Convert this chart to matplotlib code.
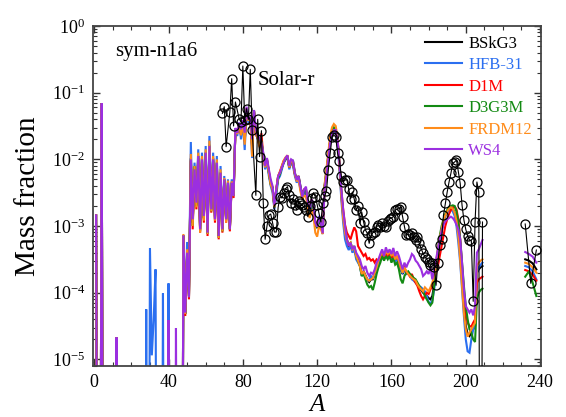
import numpy as np
import matplotlib.pyplot as plt
from matplotlib.ticker import MultipleLocator, LogLocator

plt.rcParams['font.family'] = ['Liberation Serif', 'DejaVu Serif']
plt.rcParams['mathtext.fontset'] = 'custom'
plt.rcParams['mathtext.rm'] = 'Liberation Serif'
plt.rcParams['mathtext.it'] = 'Liberation Serif:italic'

models = ['BSkG3', 'HFB-31', 'D1M', 'D3G3M', 'FRDM12', 'WS4']
colors = ['#000000', '#2b6ff0', '#ff0000', '#138a13', '#ff8c1a', '#9b2fe0']

# light nuclei (log10 mass fraction), shared by all models
A_low = [1, 4, 12]
low_log = [-2.84, -1.16, -4.67]
# extra light bits only in some models
A_low_hfb = [28, 30, 31, 32, 33, 37, 40]
low_log_hfb = [-4.25, -3.33, -4.94, -4.40, -3.65, -4.01, -3.86]
A_low_ws4 = [40, 44]
low_log_ws4 = [-4.41, -4.53]

# main region A = 48 ... 209, log10 mass fraction
A_main = np.arange(48, 210)

bskg3 = [
    -3.14, -4.32, -3.40, -4.05, -1.98, -2.95, -2.12, -2.68, -1.95, -3.05,
    -1.98, -2.88, -1.90, -3.10, -1.78, -2.75, -1.98, -2.90, -2.05, -3.15,
    -2.20, -3.05, -2.30, -2.90, -2.35, -3.05, -2.35, -2.55, -1.55, -1.60,
    -1.46, -1.62, -1.42, -1.74, -1.24, -1.42, -1.38, -1.82, -1.27, -1.62,
    -1.68, -1.80, -1.74, -1.95, -2.10, -2.02, -2.20, -2.36, -2.44, -2.72,
    -2.46, -2.26, -2.21, -2.12, -2.04, -1.99, -1.96, -2.12, -2.03, -2.05,
    -2.22, -2.32, -2.27, -2.43, -2.56, -2.50, -2.48, -2.70, -2.80, -2.65,
    -2.72, -2.98, -3.03, -2.90, -2.98, -3.10, -2.42, -2.20, -1.96, -1.73,
    -1.60, -1.55, -1.58, -1.73, -2.08, -2.52, -2.85, -3.08, -3.22, -3.30,
    -3.28, -3.36, -3.32, -3.45, -3.50, -3.58, -3.72, -3.68, -3.74, -3.80,
    -3.84, -3.80, -3.80, -3.72, -3.62, -3.55, -3.48, -3.40, -3.48, -3.40,
    -3.46, -3.42, -3.50, -3.44, -3.52, -3.48, -3.55, -3.65, -3.72, -3.65,
    -3.70, -3.70, -3.74, -3.76, -3.80, -3.84, -3.88, -3.92, -3.96, -4.00,
    -4.02, -4.05, -4.08, -4.10, -4.05, -3.88, -3.62, -3.40, -3.20, -3.05,
    -2.93, -2.85, -2.79, -2.75, -2.73, -2.74, -2.80, -2.92, -3.12, -3.40,
    -3.80, -4.20, -4.50, -4.62, -4.65, -4.60, -4.55, -4.50, -3.70, -3.65,
    -3.62, -3.60]

hfb31 = [
    -3.14, -4.30, -3.24, -3.90, -1.74, -2.85, -2.05, -2.60, -1.85, -3.00,
    -1.90, -2.80, -1.80, -3.05, -1.65, -2.70, -1.90, -2.85, -1.95, -3.10,
    -2.10, -3.00, -2.25, -2.85, -2.30, -3.00, -2.30, -2.50, -1.55, -1.65,
    -1.45, -1.70, -1.45, -1.86, -1.25, -1.45, -1.40, -1.98, -1.28, -1.60,
    -1.70, -1.75, -1.80, -1.95, -2.15, -2.05, -2.25, -2.40, -2.50, -2.75,
    -2.55, -2.30, -2.25, -2.15, -2.05, -2.00, -1.98, -2.15, -2.05, -2.10,
    -2.25, -2.35, -2.30, -2.45, -2.55, -2.50, -2.50, -2.70, -2.80, -2.65,
    -2.70, -2.95, -3.00, -2.85, -2.95, -3.05, -2.40, -2.20, -1.95, -1.72,
    -1.62, -1.58, -1.62, -1.78, -2.15, -2.60, -2.95, -3.20, -3.30, -3.36,
    -3.30, -3.40, -3.35, -3.50, -3.55, -3.60, -3.75, -3.70, -3.75, -3.80,
    -3.82, -3.75, -3.78, -3.70, -3.62, -3.55, -3.50, -3.42, -3.50, -3.42,
    -3.48, -3.45, -3.52, -3.45, -3.55, -3.48, -3.55, -3.65, -3.70, -3.65,
    -3.72, -3.70, -3.75, -3.80, -3.82, -3.85, -3.88, -3.90, -3.92, -3.95,
    -3.98, -4.05, -4.14, -4.16, -4.12, -3.95, -3.70, -3.45, -3.25, -3.10,
    -2.95, -2.85, -2.80, -2.76, -2.75, -2.78, -2.85, -3.00, -3.25, -3.55,
    -3.95, -4.35, -4.70, -4.88, -4.90, -4.70, -4.55, -4.50, -3.70, -3.62,
    -3.58, -3.55]

d1m = [
    -3.14, -4.35, -3.45, -4.10, -2.02, -3.05, -2.15, -2.75, -1.98, -3.10,
    -2.02, -2.95, -1.92, -3.15, -1.82, -2.80, -2.02, -2.95, -2.08, -3.20,
    -2.22, -3.10, -2.32, -2.95, -2.38, -3.08, -2.38, -2.58, -1.55, -1.60,
    -1.47, -1.62, -1.42, -1.72, -1.23, -1.40, -1.37, -1.80, -1.27, -1.62,
    -1.68, -1.80, -1.61, -1.95, -2.10, -2.00, -2.18, -2.35, -2.42, -2.70,
    -2.45, -2.25, -2.18, -2.10, -2.02, -1.98, -1.96, -2.12, -2.02, -2.05,
    -2.22, -2.30, -2.25, -2.42, -2.52, -2.45, -2.45, -2.65, -2.75, -2.60,
    -2.70, -2.95, -2.98, -2.88, -2.95, -3.08, -2.42, -2.22, -1.98, -1.73,
    -1.60, -1.55, -1.58, -1.72, -2.05, -2.45, -2.75, -2.98, -3.10, -3.15,
    -3.20, -3.10, -3.02, -3.08, -3.30, -3.35, -3.40, -3.45, -3.42, -3.50,
    -3.48, -3.52, -3.50, -3.55, -3.50, -3.52, -3.48, -3.42, -3.48, -3.40,
    -3.45, -3.40, -3.48, -3.42, -3.50, -3.45, -3.52, -3.62, -3.65, -3.62,
    -3.70, -3.72, -3.76, -3.72, -3.80, -3.85, -3.90, -3.98, -4.05, -4.10,
    -4.05, -4.00, -4.02, -3.95, -3.90, -3.80, -3.70, -3.60, -3.45, -3.30,
    -3.15, -3.00, -2.90, -2.82, -2.76, -2.72, -2.71, -2.75, -2.90, -3.20,
    -3.60, -4.00, -4.30, -4.45, -4.50, -4.51, -4.45, -4.40, -3.85, -3.80,
    -3.78, -3.76]

d3g3m = [
    -3.14, -4.32, -3.42, -4.05, -2.00, -3.00, -2.10, -2.70, -1.95, -3.08,
    -2.00, -2.90, -1.90, -3.12, -1.80, -2.78, -2.00, -2.87, -2.05, -3.18,
    -2.20, -3.08, -2.30, -2.92, -2.35, -3.05, -2.35, -2.55, -1.54, -1.58,
    -1.46, -1.60, -1.42, -1.70, -1.24, -1.42, -1.36, -1.80, -1.27, -1.60,
    -1.64, -1.78, -1.72, -1.93, -2.05, -2.00, -2.20, -2.38, -2.42, -2.72,
    -2.48, -2.28, -2.22, -2.12, -2.05, -2.00, -1.95, -2.12, -2.02, -2.02,
    -2.20, -2.32, -2.25, -2.40, -2.55, -2.48, -2.45, -2.68, -2.78, -2.62,
    -2.72, -2.98, -3.02, -2.90, -2.98, -3.12, -2.40, -2.15, -1.95, -1.72,
    -1.58, -1.52, -1.56, -1.70, -2.05, -2.50, -2.82, -3.05, -3.20, -3.28,
    -3.25, -3.35, -3.30, -3.45, -3.52, -3.60, -3.75, -3.72, -3.80, -3.88,
    -3.92, -3.90, -3.96, -3.85, -3.72, -3.62, -3.55, -3.45, -3.52, -3.45,
    -3.50, -3.45, -3.55, -3.48, -3.58, -3.55, -3.65, -3.80, -3.86, -3.75,
    -3.70, -3.68, -3.72, -3.75, -3.78, -3.80, -3.85, -3.90, -3.95, -3.98,
    -4.05, -4.10, -4.15, -4.19, -4.15, -3.90, -3.60, -3.35, -3.15, -3.00,
    -2.90, -2.82, -2.76, -2.72, -2.70, -2.69, -2.70, -2.78, -2.95, -3.20,
    -3.55, -3.90, -4.20, -4.40, -4.55, -4.60, -4.70, -4.74, -4.10, -4.00,
    -3.96, -3.94]

frdm12 = [
    -3.12, -4.32, -3.35, -4.05, -1.92, -3.00, -2.10, -2.72, -1.90, -3.10,
    -1.95, -2.92, -1.85, -3.12, -1.72, -2.78, -1.95, -2.92, -2.00, -3.18,
    -2.15, -3.08, -2.28, -2.95, -2.32, -3.05, -2.33, -2.55, -1.55, -1.62,
    -1.46, -1.64, -1.43, -1.78, -1.24, -1.42, -1.38, -1.96, -1.28, -1.62,
    -1.68, -1.82, -1.75, -1.98, -2.12, -2.02, -2.20, -2.38, -2.45, -2.72,
    -2.45, -2.25, -2.20, -2.10, -2.02, -1.97, -1.94, -2.12, -2.02, -2.04,
    -2.22, -2.33, -2.30, -2.48, -2.60, -2.55, -2.55, -2.78, -2.88, -2.75,
    -2.85, -3.10, -3.16, -3.00, -3.05, -3.12, -2.38, -2.15, -1.90, -1.65,
    -1.52, -1.47, -1.50, -1.68, -2.08, -2.55, -2.88, -3.10, -3.22, -3.28,
    -3.25, -3.35, -3.32, -3.45, -3.52, -3.60, -3.72, -3.68, -3.75, -3.80,
    -3.82, -3.80, -3.78, -3.70, -3.62, -3.52, -3.45, -3.38, -3.45, -3.38,
    -3.42, -3.38, -3.45, -3.40, -3.50, -3.45, -3.52, -3.62, -3.70, -3.62,
    -3.68, -3.72, -3.75, -3.78, -3.80, -3.82, -3.88, -3.92, -3.95, -3.98,
    -3.92, -3.95, -3.98, -3.92, -3.85, -3.75, -3.55, -3.35, -3.18, -3.05,
    -2.92, -2.84, -2.78, -2.74, -2.72, -2.74, -2.80, -2.92, -3.15, -3.50,
    -3.90, -4.30, -4.55, -4.66, -4.60, -4.55, -4.50, -4.45, -3.60, -3.55,
    -3.52, -3.50]

ws4 = [
    -3.14, -4.30, -3.40, -4.07, -2.00, -2.90, -2.15, -2.65, -1.95, -3.05,
    -2.00, -2.85, -1.90, -3.10, -1.80, -2.75, -2.00, -2.90, -2.05, -3.15,
    -2.20, -3.05, -2.30, -2.90, -2.35, -3.05, -2.35, -2.55, -1.53, -1.60,
    -1.45, -1.55, -1.41, -1.60, -1.21, -1.40, -1.36, -1.70, -1.26, -1.55,
    -1.65, -1.68, -1.75, -1.90, -2.10, -1.98, -2.15, -2.30, -2.40, -2.69,
    -2.45, -2.25, -2.20, -2.12, -2.05, -1.98, -1.94, -2.10, -2.00, -2.02,
    -2.20, -2.31, -2.25, -2.40, -2.56, -2.45, -2.41, -2.65, -2.76, -2.60,
    -2.65, -2.95, -3.01, -2.86, -2.95, -3.11, -2.45, -2.25, -2.00, -1.75,
    -1.62, -1.56, -1.56, -1.72, -2.05, -2.45, -2.75, -3.00, -3.20, -3.30,
    -3.25, -3.35, -3.30, -3.40, -3.45, -3.50, -3.60, -3.65, -3.60, -3.70,
    -3.75, -3.70, -3.72, -3.65, -3.55, -3.50, -3.42, -3.35, -3.45, -3.32,
    -3.40, -3.35, -3.42, -3.33, -3.45, -3.38, -3.45, -3.55, -3.65, -3.55,
    -3.62, -3.55, -3.50, -3.42, -3.45, -3.52, -3.55, -3.60, -3.65, -3.75,
    -3.72, -3.68, -3.72, -3.62, -3.80, -3.65, -3.50, -3.35, -3.20, -3.08,
    -2.98, -2.93, -2.90, -2.88, -2.86, -2.88, -2.92, -2.98, -3.05, -3.20,
    -3.55, -3.95, -4.20, -4.25, -4.30, -4.25, -4.34, -4.20, -3.40, -3.35,
    -3.28, -3.21]

# actinide group
A_act = [232, 234, 236, 238]
act = {
    'BSkG3': [-3.50, -3.52, -3.56, -3.65],
    'HFB-31': [-3.60, -3.62, -3.68, -3.80],
    'D1M': [-3.66, -3.68, -3.73, -3.82],
    'D3G3M': [-3.76, -3.68, -3.85, -4.05],
    'FRDM12': [-3.55, -3.57, -3.62, -3.70],
    'WS4': [-3.39, -3.42, -3.46, -3.55],
}

# solar r-process residuals (log10 mass fraction); 208 is off the scale
solar_A = [69, 70, 71, 73, 74, 75, 76, 78, 79, 80, 81, 82, 83, 84, 85, 87, 88,
           89, 90, 91, 92, 93, 94, 95, 96, 97, 98] + list(range(99, 210))
solar_log = [
    -1.31, -1.21, -1.81, -1.29, -0.79, -1.50, -1.14, -1.39, -1.44, -0.60,
    -1.41, -1.24, -1.40, -0.65, -1.56, -2.54, -1.40, -1.96, -1.57, -2.66,
    -3.20, -3.00, -2.84, -2.82, -2.95, -3.09, -3.09,
    -2.72, -2.56, -2.58, -2.51, -2.44, -2.41, -2.54, -2.66, -2.60, -2.69,
    -2.76, -2.62, -2.66, -2.69, -2.72, -2.76, -2.86, -2.70, -2.58, -2.50,
    -2.56, -2.68, -2.81, -2.94, -2.66, -2.55, -2.48, -2.16, -1.91, -1.67,
    -1.64, -1.66, -1.91, -2.02, -2.25, -2.34, -2.31, -2.31, -2.45, -2.59,
    -2.49, -2.60, -2.76, -2.70, -2.96, -2.79, -2.94, -3.06, -3.11, -3.26,
    -3.14, -3.10, -3.09, -3.01, -2.99, -3.01, -2.96, -3.00, -3.01, -2.93,
    -2.89, -2.88, -2.86, -2.76, -2.75, -2.74, -2.72, -2.86, -3.01, -3.14,
    -3.12, -3.14, -3.10, -3.16, -3.21, -3.16, -3.26, -3.34, -3.41, -3.46,
    -3.50, -3.54, -3.59, -3.56, -3.61, -3.89, -3.55, -3.29, -3.19, -2.84,
    -2.66, -2.49, -2.34, -2.21, -2.06, -2.04, -2.01, -2.19, -2.36, -2.69,
    -2.91, -3.05, -3.15, -3.21, -3.22, -4.13, -2.94, -2.34, -2.49, -12.0,
    -2.94]
solar_A_act = [232, 235, 238]
solar_log_act = [-2.97, -3.86, -3.36]

main = {'BSkG3': bskg3, 'HFB-31': hfb31, 'D1M': d1m, 'D3G3M': d3g3m,
        'FRDM12': frdm12, 'WS4': ws4}
extra = {'HFB-31': (A_low_hfb, low_log_hfb), 'WS4': (A_low_ws4, low_log_ws4)}

A_full = np.arange(1, 210)

fig = plt.figure(figsize=(5.66, 4.17), dpi=100)
ax = fig.add_axes([93.3 / 566, 1 - 366 / 417, 447.7 / 566, 340 / 417])

handles = []
for name, c in zip(models, colors):
    logx = np.full(A_full.size, -12.0)
    logx[np.array(A_low) - 1] = low_log
    if name in extra:
        ea, ev = extra[name]
        logx[np.array(ea) - 1] = ev
    logx[A_main - 1] = main[name]
    h, = ax.plot(A_full, 10.0 ** logx, color=c, lw=1.5, solid_joinstyle='miter')
    ax.plot(A_act, 10.0 ** np.array(act[name]), color=c, lw=1.5)
    handles.append(h)

ax.plot(solar_A, 10.0 ** np.array(solar_log), '-o', color='k', lw=0.8,
        ms=6.5, mfc='none', mew=0.9, zorder=10)
ax.plot(solar_A_act, 10.0 ** np.array(solar_log_act), '-o', color='k', lw=0.8,
        ms=6.5, mfc='none', mew=0.9, zorder=10)

ax.set_yscale('log')
ax.set_xlim(-0.5, 240.5)
ax.set_ylim(10 ** -5.1, 1)
ax.xaxis.set_major_locator(MultipleLocator(40))
ax.xaxis.set_minor_locator(MultipleLocator(10))
ax.yaxis.set_major_locator(LogLocator(base=10, numticks=10))
ax.yaxis.set_minor_locator(LogLocator(base=10, subs=np.arange(2, 10), numticks=20))
ax.tick_params(which='both', direction='in', top=True, right=True,
               labelsize=13, color='#333333')
ax.tick_params(which='major', length=5, width=1.0, pad=6)
ax.tick_params(which='minor', length=3, width=0.8)
for s in ax.spines.values():
    s.set_color('#444444')
    s.set_linewidth(1.3)

ax.set_ylabel('Mass fraction', fontsize=21)
ax.yaxis.set_label_coords(-0.117, 0.5)
ax.set_xlabel('A', fontsize=18, fontstyle='italic')
ax.xaxis.set_label_coords(0.5, -0.083)

ax.text(0.048, 0.925, 'sym-n1a6', transform=ax.transAxes, fontsize=15,
        va='center', ha='left')
ax.text(0.367, 0.84, 'Solar-r', transform=ax.transAxes, fontsize=15,
        va='center', ha='left')

ax.legend(handles, models, loc='upper left', bbox_to_anchor=(0.741, 0.972),
          frameon=False, fontsize=12, handlelength=2.2, handletextpad=0.4,
          labelspacing=0.33, borderpad=0, borderaxespad=0, labelcolor=colors)

fig.savefig('out.png', dpi=100)
